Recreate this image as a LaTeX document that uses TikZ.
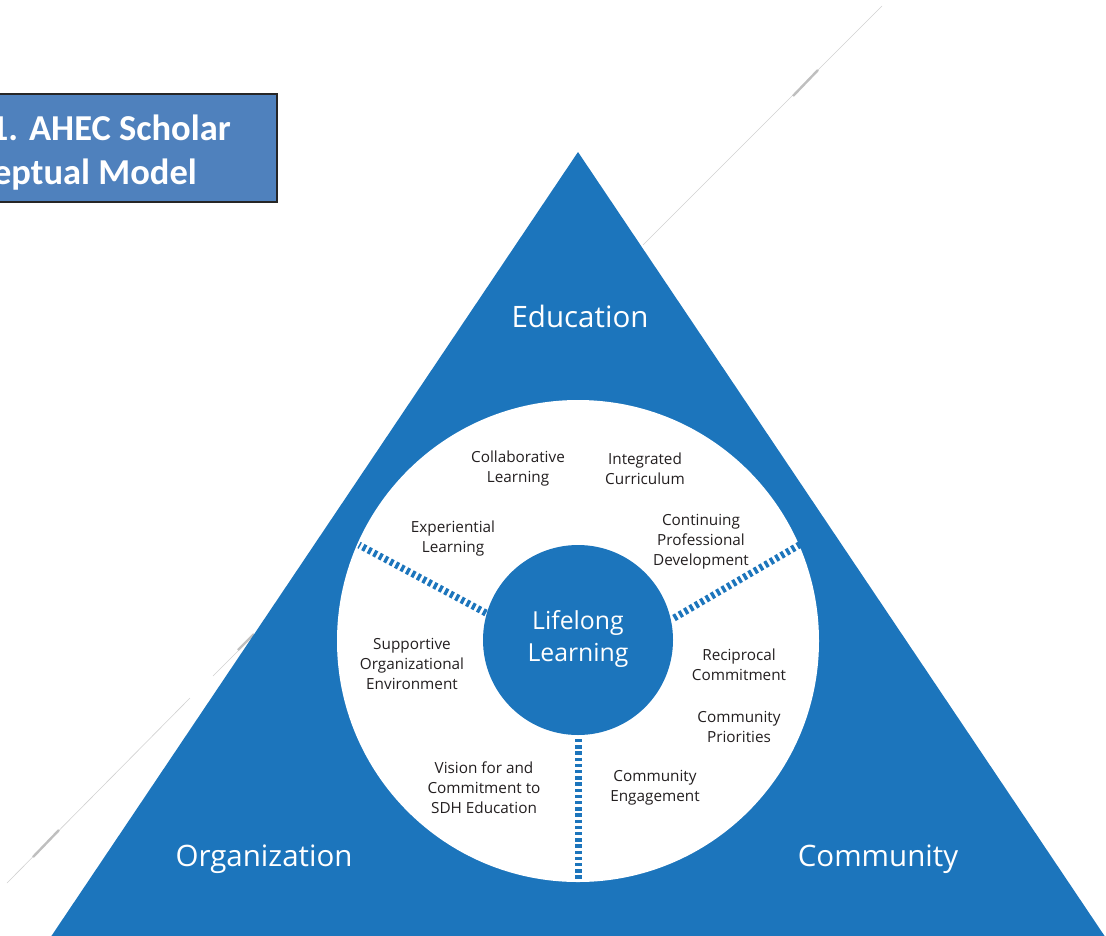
\documentclass[tikz,border=0pt]{standalone}
\usepackage{fontspec}
\setmainfont{Open Sans}
\newfontfamily\titlefont{Carlito}
\definecolor{triblue}{HTML}{1C75BC}
\definecolor{titleblue}{HTML}{4F81BD}
\definecolor{labelgray}{HTML}{231F20}
\begin{document}
\begin{tikzpicture}[x=1pt,y=-1pt,
  lbl/.style={font=\fontsize{15.3}{20}\selectfont, text=labelgray, align=center, inner sep=0pt},
  big/.style={font=\fontsize{29.5}{34}\selectfont, text=white, inner sep=0pt},
  core/.style={font=\fontsize{24.8}{32}\selectfont, text=white, align=center, inner sep=0pt},
  divider/.style={draw=triblue, line width=7pt, dash pattern=on 3.3pt off 2.9pt},
  ghost/.style={draw=black!18, line width=0.6pt},
  ghostthick/.style={draw=black!25, line width=2.4pt},
  titlebox/.style={draw=black!85, fill=titleblue, line width=1.2pt},
  titletext/.style={font=\titlefont\bfseries\fontsize{36.5}{44}\selectfont, text=white, inner sep=0pt}]
\useasboundingbox (0,0) rectangle (1106,935);
\clip (0,0) rectangle (1106,935);
% ghost lines
\coordinate (ga1) at (882,6);
\coordinate (ga2) at (643,245);
\coordinate (gb1) at (818,70);
\coordinate (gb2) at (793,96);
\draw[ghost] (ga1) -- (ga2);
\draw[ghostthick] (gb1) -- (gb2);
\coordinate (gc1) at (7,883);
\coordinate (gc2) at (190,698);
\coordinate (gd1) at (33,857);
\coordinate (gd2) at (59,830);
\coordinate (ge1) at (213,676);
\coordinate (ge2) at (257,632);
\coordinate (gf1) at (238,650);
\coordinate (gf2) at (254,634);
\draw[ghost] (gc1) -- (gc2);
\draw[ghostthick] (gd1) -- (gd2);
\draw[ghost] (ge1) -- (ge2);
\draw[ghostthick] (gf1) -- (gf2);
% triangle
\coordinate (apex) at (578,152);
\coordinate (bl) at (42,950);
\coordinate (br) at (1114,950);
\fill[triblue] (apex) -- (br) -- (bl) -- cycle;
% circles
\node[circle, fill=white, minimum size=482pt, inner sep=0pt] (outer) at (578,641) {};
\node[circle, fill=triblue, minimum size=190pt, inner sep=0pt] (inner) at (578,640) {};
% dividers
\coordinate (dl1) at (486,613);
\coordinate (dl2) at (359,545);
\coordinate (dr1) at (674,618);
\coordinate (dr2) at (801,544);
\coordinate (db1) at (578,739);
\coordinate (db2) at (578,881);
\draw[divider] (dl1) -- (dl2);
\draw[divider] (dr1) -- (dr2);
\draw[divider] (db1) -- (db2);
% labels
\node[big] (edu) at (580,316) {Education};
\node[big] (org) at (264,859) {Organization};
\node[big] (com) at (878,859) {Community};
\node[core] (life) at (578,639) {Lifelong\\Learning};
\node[lbl] (collab) at (518,469) {Collaborative\\Learning};
\node[lbl] (integ) at (645,469) {Integrated\\Curriculum};
\node[lbl] (exper) at (453,539) {Experiential\\Learning};
\node[lbl] (contin) at (701,542) {Continuing\\Professional\\Development};
\node[lbl] (supp) at (412,664) {Supportive\\Organizational\\Environment};
\node[lbl] (recip) at (739,665) {Reciprocal\\Commitment};
\node[lbl] (prior) at (739,727) {Community\\Priorities};
\node[lbl] (vision) at (484,788) {Vision for and\\Commitment to\\SDH Education};
\node[lbl] (engage) at (655,788) {Community\\Engagement};
% title box
\draw[titlebox] (-10,94) rectangle (277,202);
\node[titletext, anchor=base east] (t1) at (231,140) {1. AHEC Scholar};
\node[titletext, anchor=base east] (t2) at (197,184) {eptual Model};
\end{tikzpicture}
\end{document}
